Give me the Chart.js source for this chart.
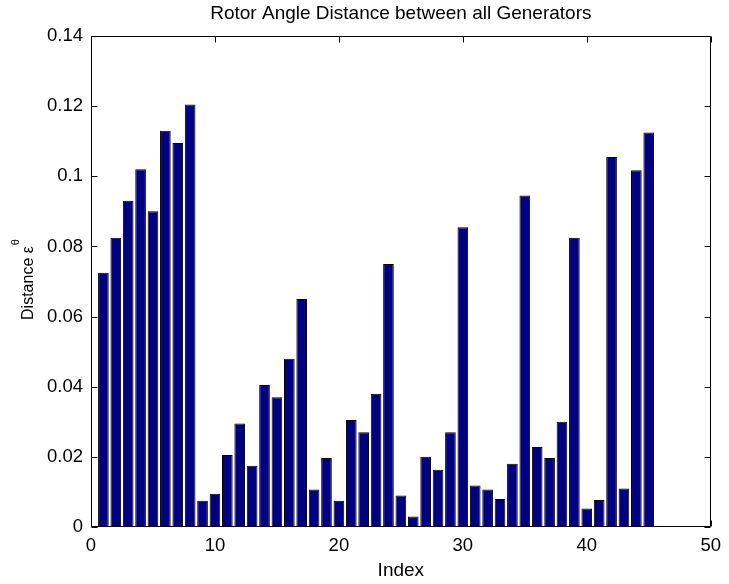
<!DOCTYPE html>
<html>
<head>
<meta charset="utf-8">
<title>Rotor Angle Distance</title>
<script src="https://cdn.jsdelivr.net/npm/chart.js@4.4.0/dist/chart.umd.min.js"></script>
<style>
    html, body { margin: 0; padding: 0; background: #fff; }
</style>
</head>
<body>
<canvas id="canvas" width="729" height="584"></canvas>
<script>
// data
var indices = [1, 2, 3, 4, 5, 6, 7, 8, 9, 10, 11, 12, 13, 14, 15, 16, 17, 18, 19, 20,
    21, 22, 23, 24, 25, 26, 27, 28, 29, 30, 31, 32, 33, 34, 35, 36, 37, 38, 39, 40,
    41, 42, 43, 44, 45];
var distances = [0.0725, 0.0825, 0.093, 0.102, 0.090, 0.113, 0.1095, 0.1205, 0.0075, 0.0095,
    0.0205, 0.0295, 0.0175, 0.0405, 0.037, 0.048, 0.065, 0.0107, 0.0197, 0.0075,
    0.0305, 0.027, 0.038, 0.075, 0.009, 0.003, 0.020, 0.0163, 0.027, 0.0855,
    0.0118, 0.0107, 0.008, 0.018, 0.0945, 0.0228, 0.0197, 0.030, 0.0825, 0.0053,
    0.0077, 0.1055, 0.011, 0.1017, 0.1125];
var xTickLabels = ['0', '10', '20', '30', '40', '50'];
var yTickLabels = ['0', '0.02', '0.04', '0.06', '0.08', '0.1', '0.12', '0.14'];

var fontFamily = "'Liberation Sans', Arial, sans-serif";
Chart.defaults.font.family = fontFamily;
Chart.defaults.color = '#000';

// matlab style box with inward ticks + y label with superscript
var matlabBox = {
    id: 'matlabBox',
    afterDraw: function (chart) {
        var ctx = chart.ctx;
        var a = chart.chartArea;
        var xs = chart.scales.x, ys = chart.scales.y;
        var l = Math.round(a.left) + 0.5, r = Math.round(a.right) - 0.5;
        var t = Math.round(a.top) + 0.5, b = Math.round(a.bottom) - 0.5;
        ctx.save();
        ctx.strokeStyle = '#000';
        ctx.lineWidth = 1;
        ctx.beginPath();
        ctx.rect(l, t, r - l, b - t);
        xs.ticks.forEach(function (tk) {
            var px = Math.round(xs.getPixelForValue(tk.value)) + 0.5;
            ctx.moveTo(px, b); ctx.lineTo(px, b - 6);
            ctx.moveTo(px, t); ctx.lineTo(px, t + 6);
        });
        ys.ticks.forEach(function (tk) {
            var py = Math.round(ys.getPixelForValue(tk.value)) + 0.5;
            ctx.moveTo(l, py); ctx.lineTo(l + 6, py);
            ctx.moveTo(r, py); ctx.lineTo(r - 6, py);
        });
        ctx.stroke();

        // y axis label: Distance ε^θ
        var main = 'Distance \u03b5', sup = '\u03b8';
        ctx.fillStyle = '#000';
        ctx.font = '16px ' + fontFamily;
        var w1 = ctx.measureText(main).width;
        ctx.font = '11px ' + fontFamily;
        var w2 = ctx.measureText(sup).width;
        ctx.translate(33, (a.top + a.bottom) / 2 - 2);
        ctx.rotate(-Math.PI / 2);
        ctx.textBaseline = 'alphabetic';
        ctx.textAlign = 'left';
        var x0 = -(w1 + w2 + 1) / 2;
        ctx.font = '16px ' + fontFamily;
        ctx.fillText(main, x0, 0);
        ctx.font = '11px ' + fontFamily;
        ctx.fillText(sup, x0 + w1 + 1, -14);
        ctx.restore();
    }
};

var config = {
    type: 'bar',
    data: {
        datasets: [{
            data: indices.map(function (v, i) { return { x: v, y: distances[i] }; }),
            backgroundColor: '#000080',
            borderColor: '#000',
            borderWidth: 1,
            categoryPercentage: 1,
            barPercentage: 0.86
        }]
    },
    options: {
        responsive: false,
        animation: false,
        layout: { padding: { left: 0, right: 0, top: 0, bottom: 0 } },
        plugins: {
            legend: { display: false },
            tooltip: { enabled: false },
            title: {
                display: true,
                fullSize: false,
                text: 'Rotor Angle Distance between all Generators',
                font: { size: 19, weight: 'normal' },
                color: '#000',
                padding: { top: 2.5, bottom: 10.7 }
            }
        },
        scales: {
            x: {
                type: 'linear',
                min: 0,
                max: 50,
                offset: false,
                grid: { display: false, drawTicks: false },
                border: { display: false },
                ticks: {
                    stepSize: 10,
                    padding: 8,
                    maxRotation: 0,
                    font: { size: 18.5 },
                    callback: function (v, i) { return xTickLabels[i]; }
                },
                title: {
                    display: true,
                    text: 'Index',
                    font: { size: 19 },
                    padding: { top: 0, bottom: 2 }
                },
                afterFit: function (scale) { scale.height = 57; }
            },
            y: {
                min: 0,
                max: 0.14,
                grid: { display: false, drawTicks: false },
                border: { display: false },
                ticks: {
                    stepSize: 0.02,
                    padding: 8,
                    font: { size: 18.5 },
                    callback: function (v, i) { return yTickLabels[i]; }
                },
                afterFit: function (scale) { scale.width = 91; }
            }
        }
    },
    plugins: [matlabBox]
};

window.onload = function () {
    window.myBar = new Chart(document.getElementById('canvas'), config);
};
</script>
</body>
</html>
